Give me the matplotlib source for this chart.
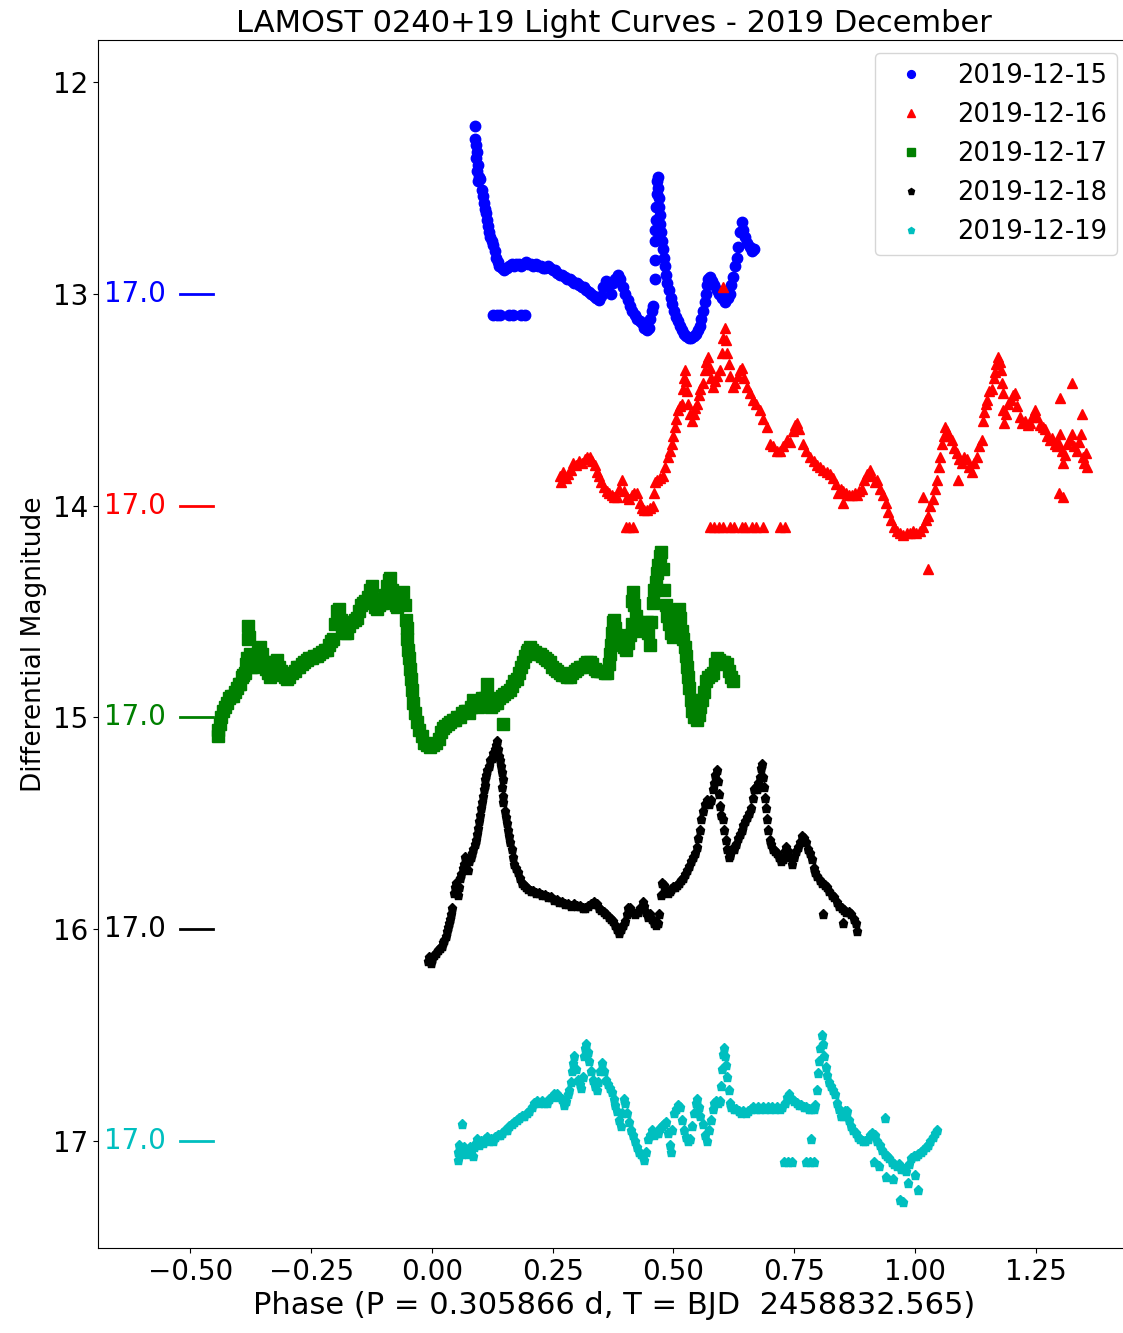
import matplotlib
matplotlib.use("Agg")
import matplotlib.pyplot as plt
import numpy as np

# ---------------- data (phase, differential magnitude) ----------------
dates = ["2019-12-15", "2019-12-16", "2019-12-17", "2019-12-18", "2019-12-19"]
colors = ["b", "r", "g", "k", "c"]
markers = ["o", "^", "s", "p", "p"]
offsets = [13, 14, 15, 16, 17]
ref_label = "17.0"

lc_1215 = [
    (0.089, 12.21), (0.089, 12.27), (0.092, 12.30), (0.094, 12.33), (0.091, 12.36), (0.095, 12.39),
    (0.093, 12.42), (0.097, 12.45), (0.096, 12.47), (0.100, 12.46), (0.104, 12.51), (0.105, 12.54),
    (0.107, 12.57), (0.110, 12.60), (0.112, 12.62), (0.115, 12.65), (0.117, 12.68), (0.119, 12.71),
    (0.121, 12.73), (0.124, 12.75), (0.127, 12.77), (0.130, 12.80), (0.133, 12.83), (0.136, 12.85),
    (0.140, 12.87), (0.145, 12.88), (0.150, 12.89), (0.155, 12.88), (0.160, 12.87), (0.165, 12.86),
    (0.170, 12.87), (0.175, 12.86), (0.180, 12.86), (0.185, 12.87), (0.190, 12.86), (0.195, 12.85),
    (0.200, 12.86), (0.205, 12.86), (0.210, 12.87), (0.215, 12.86), (0.220, 12.87), (0.225, 12.87),
    (0.230, 12.88), (0.235, 12.88), (0.240, 12.87), (0.245, 12.88), (0.250, 12.89), (0.255, 12.89),
    (0.260, 12.90), (0.265, 12.91), (0.270, 12.91), (0.275, 12.92), (0.280, 12.93), (0.285, 12.93),
    (0.290, 12.94), (0.295, 12.95), (0.300, 12.95), (0.305, 12.96), (0.310, 12.97), (0.315, 12.97),
    (0.320, 12.98), (0.325, 12.99), (0.330, 13.00), (0.335, 13.01), (0.340, 13.02), (0.345, 13.03),
    (0.350, 13.01), (0.355, 12.97), (0.360, 12.94), (0.365, 12.96), (0.370, 13.00), (0.375, 12.95),
    (0.380, 12.93), (0.385, 12.91), (0.390, 12.93), (0.395, 12.97), (0.400, 13.00), (0.405, 13.03),
    (0.410, 13.06), (0.415, 13.08), (0.420, 13.10), (0.425, 13.12), (0.430, 13.13), (0.435, 13.14),
    (0.440, 13.16), (0.445, 13.17), (0.449, 13.16), (0.452, 13.12), (0.455, 13.08), (0.458, 13.06),
    (0.461, 12.93), (0.461, 12.84), (0.462, 12.75), (0.461, 12.70), (0.463, 12.65), (0.464, 12.59),
    (0.465, 12.53), (0.467, 12.47), (0.468, 12.45), (0.469, 12.50), (0.470, 12.55), (0.471, 12.59),
    (0.472, 12.63), (0.473, 12.67), (0.474, 12.71), (0.476, 12.75), (0.478, 12.79), (0.480, 12.83),
    (0.482, 12.87), (0.484, 12.91), (0.487, 12.95), (0.490, 12.98), (0.494, 13.02), (0.498, 13.05),
    (0.502, 13.08), (0.506, 13.11), (0.510, 13.13), (0.514, 13.15), (0.518, 13.17), (0.522, 13.19),
    (0.527, 13.20), (0.532, 13.21), (0.537, 13.21), (0.542, 13.20), (0.546, 13.19), (0.550, 13.17),
    (0.554, 13.15), (0.558, 13.12), (0.562, 13.08), (0.565, 13.04), (0.567, 13.00), (0.569, 12.96),
    (0.572, 12.93), (0.575, 12.92), (0.580, 12.94), (0.585, 12.96), (0.590, 12.98), (0.595, 13.00),
    (0.600, 13.02), (0.606, 13.04), (0.612, 13.02), (0.617, 13.00), (0.620, 12.96), (0.623, 12.92),
    (0.627, 12.87), (0.631, 12.83), (0.633, 12.78), (0.637, 12.71), (0.641, 12.66), (0.644, 12.70),
    (0.648, 12.73), (0.653, 12.76), (0.658, 12.78), (0.662, 12.80), (0.666, 12.79),
    (0.126, 13.10), (0.134, 13.10), (0.142, 13.10), (0.160, 13.10), (0.168, 13.10), (0.185, 13.10),
    (0.193, 13.10),
]

lc_1216 = [
    (0.265, 13.86), (0.268, 13.89), (0.272, 13.84), (0.277, 13.87), (0.282, 13.85), (0.287, 13.83),
    (0.292, 13.80), (0.298, 13.81), (0.304, 13.79), (0.310, 13.80), (0.316, 13.78), (0.322, 13.77),
    (0.327, 13.77), (0.332, 13.79), (0.337, 13.81), (0.341, 13.84), (0.346, 13.86), (0.351, 13.89),
    (0.356, 13.91), (0.362, 13.93), (0.367, 13.94), (0.373, 13.95), (0.378, 13.96), (0.383, 13.96),
    (0.388, 13.92), (0.393, 13.88), (0.398, 13.93), (0.404, 13.96), (0.409, 13.97), (0.414, 13.95),
    (0.419, 13.94), (0.424, 13.94), (0.430, 13.99), (0.435, 14.01), (0.440, 14.02), (0.445, 14.02),
    (0.451, 14.01), (0.457, 14.00), (0.459, 13.94), (0.461, 13.89), (0.466, 13.88), (0.472, 13.87),
    (0.478, 13.86), (0.483, 13.82), (0.488, 13.77), (0.492, 13.74), (0.497, 13.71), (0.500, 13.67),
    (0.503, 13.63), (0.506, 13.59), (0.509, 13.55), (0.513, 13.53), (0.517, 13.52), (0.520, 13.45),
    (0.522, 13.40), (0.524, 13.36), (0.526, 13.41), (0.528, 13.46), (0.531, 13.52), (0.535, 13.57),
    (0.538, 13.60), (0.542, 13.57), (0.545, 13.54), (0.548, 13.52), (0.552, 13.48), (0.556, 13.45),
    (0.561, 13.42), (0.565, 13.36), (0.568, 13.32), (0.571, 13.30), (0.575, 13.35), (0.578, 13.40),
    (0.582, 13.44), (0.586, 13.41), (0.590, 13.39), (0.596, 13.36), (0.600, 13.28), (0.603, 13.21),
    (0.606, 13.16), (0.608, 13.22), (0.610, 13.28), (0.614, 13.33), (0.618, 13.39), (0.623, 13.44),
    (0.628, 13.42), (0.633, 13.39), (0.638, 13.36), (0.642, 13.35), (0.647, 13.40), (0.652, 13.44),
    (0.658, 13.47), (0.664, 13.50), (0.670, 13.52), (0.679, 13.55), (0.686, 13.59), (0.693, 13.63),
    (0.700, 13.71), (0.707, 13.72), (0.714, 13.74), (0.720, 13.74), (0.727, 13.72), (0.735, 13.69),
    (0.741, 13.70), (0.748, 13.65), (0.752, 13.62), (0.755, 13.61), (0.760, 13.64), (0.768, 13.71),
    (0.775, 13.74), (0.782, 13.77), (0.790, 13.79), (0.797, 13.81), (0.803, 13.82), (0.810, 13.83),
    (0.817, 13.84), (0.824, 13.85), (0.830, 13.87), (0.836, 13.90), (0.840, 13.94), (0.846, 13.92),
    (0.851, 13.93), (0.857, 13.94), (0.863, 13.95), (0.869, 13.95), (0.875, 13.94), (0.880, 13.95),
    (0.885, 13.93), (0.890, 13.92), (0.895, 13.88), (0.900, 13.85), (0.906, 13.83), (0.912, 13.86),
    (0.917, 13.89), (0.921, 13.88), (0.927, 13.92), (0.933, 13.95), (0.939, 13.99), (0.944, 14.03),
    (0.950, 14.07), (0.957, 14.10), (0.963, 14.12), (0.969, 14.13), (0.976, 14.14), (0.983, 14.13),
    (0.989, 14.13), (0.995, 14.12), (1.002, 14.13), (1.010, 14.12), (1.017, 14.10), (1.022, 14.07),
    (1.026, 14.05), (1.031, 14.00), (1.037, 13.97), (1.041, 13.92), (1.045, 13.88), (1.049, 13.82),
    (1.051, 13.77), (1.055, 13.71), (1.059, 13.67), (1.063, 13.63), (1.066, 13.65), (1.070, 13.67),
    (1.076, 13.69), (1.081, 13.73), (1.087, 13.75), (1.092, 13.78), (1.097, 13.80), (1.102, 13.77),
    (1.107, 13.78), (1.112, 13.82), (1.117, 13.84), (1.122, 13.80), (1.128, 13.77), (1.133, 13.72),
    (1.138, 13.69), (1.140, 13.60), (1.142, 13.56), (1.146, 13.52), (1.149, 13.50), (1.154, 13.46),
    (1.159, 13.45), (1.163, 13.40), (1.165, 13.37), (1.168, 13.33), (1.171, 13.30), (1.175, 13.32),
    (1.178, 13.36), (1.180, 13.42), (1.182, 13.47), (1.183, 13.55), (1.184, 13.61), (1.188, 13.57),
    (1.193, 13.52), (1.198, 13.50), (1.203, 13.48), (1.207, 13.47), (1.212, 13.53), (1.217, 13.58),
    (1.222, 13.61), (1.228, 13.60), (1.233, 13.62), (1.238, 13.61), (1.243, 13.58), (1.248, 13.55),
    (1.253, 13.58), (1.258, 13.62), (1.264, 13.63), (1.269, 13.64), (1.274, 13.67), (1.279, 13.69),
    (1.284, 13.68), (1.289, 13.71), (1.293, 13.72), (1.297, 13.70), (1.300, 13.66), (1.304, 13.74),
    (1.306, 13.80), (1.310, 13.76), (1.315, 13.71), (1.320, 13.69), (1.325, 13.66), (1.330, 13.72),
    (1.335, 13.74), (1.340, 13.70), (1.344, 13.66), (1.347, 13.77), (1.350, 13.80), (1.353, 13.75),
    (1.356, 13.82),
    (0.602, 12.97), (1.026, 14.30), (1.016, 13.96), (0.850, 13.99), (1.325, 13.42), (1.306, 13.96),
    (1.345, 13.57), (1.300, 13.49), (1.298, 13.94), (1.090, 13.88),
    (0.402, 14.10), (0.409, 14.10), (0.416, 14.10), (0.575, 14.10), (0.583, 14.10), (0.595, 14.10),
    (0.603, 14.10), (0.618, 14.10), (0.626, 14.10), (0.641, 14.10), (0.649, 14.10), (0.663, 14.10),
    (0.671, 14.10), (0.686, 14.10), (0.720, 14.10), (0.730, 14.10),
]

lc_1217 = [
    (-0.443, 15.09), (-0.442, 15.06), (-0.439, 15.03), (-0.436, 15.00), (-0.432, 14.97), (-0.428, 14.95),
    (-0.424, 14.93), (-0.420, 14.91), (-0.416, 14.90), (-0.412, 14.90), (-0.408, 14.88), (-0.404, 14.86),
    (-0.400, 14.84), (-0.397, 14.84), (-0.393, 14.81), (-0.390, 14.80), (-0.387, 14.79), (-0.385, 14.75),
    (-0.383, 14.72), (-0.381, 14.63), (-0.380, 14.57), (-0.378, 14.62), (-0.377, 14.70), (-0.375, 14.76),
    (-0.371, 14.76), (-0.367, 14.73), (-0.363, 14.72), (-0.359, 14.69), (-0.356, 14.67), (-0.352, 14.70),
    (-0.348, 14.74), (-0.344, 14.77), (-0.340, 14.79), (-0.335, 14.81), (-0.331, 14.78), (-0.327, 14.75),
    (-0.324, 14.74), (-0.321, 14.73), (-0.317, 14.76), (-0.313, 14.78), (-0.309, 14.80), (-0.304, 14.81),
    (-0.300, 14.82), (-0.295, 14.81), (-0.290, 14.79), (-0.284, 14.78), (-0.279, 14.76), (-0.274, 14.76),
    (-0.269, 14.75), (-0.264, 14.74), (-0.259, 14.73), (-0.254, 14.72), (-0.248, 14.72), (-0.243, 14.71),
    (-0.238, 14.71), (-0.233, 14.70), (-0.227, 14.69), (-0.222, 14.68), (-0.217, 14.68), (-0.212, 14.66),
    (-0.208, 14.64), (-0.205, 14.63), (-0.200, 14.56), (-0.196, 14.50), (-0.193, 14.49), (-0.189, 14.54),
    (-0.185, 14.58), (-0.180, 14.60), (-0.176, 14.60), (-0.171, 14.57), (-0.166, 14.55), (-0.160, 14.54),
    (-0.155, 14.53), (-0.150, 14.50), (-0.146, 14.47), (-0.143, 14.46), (-0.138, 14.45), (-0.133, 14.43),
    (-0.128, 14.40), (-0.124, 14.38), (-0.120, 14.44), (-0.117, 14.48), (-0.114, 14.49), (-0.110, 14.47),
    (-0.105, 14.46), (-0.101, 14.46), (-0.097, 14.42), (-0.093, 14.38), (-0.089, 14.35), (-0.087, 14.34),
    (-0.083, 14.40), (-0.079, 14.44), (-0.075, 14.47), (-0.072, 14.48), (-0.068, 14.45), (-0.064, 14.42),
    (-0.060, 14.41), (-0.056, 14.47), (-0.053, 14.54), (-0.052, 14.58), (-0.051, 14.63), (-0.050, 14.68),
    (-0.048, 14.72), (-0.046, 14.77), (-0.044, 14.82), (-0.041, 14.87), (-0.038, 14.93), (-0.035, 14.98),
    (-0.031, 15.02), (-0.026, 15.06), (-0.021, 15.09), (-0.016, 15.12), (-0.010, 15.13), (-0.004, 15.14),
    (0.002, 15.13), (0.008, 15.12), (0.014, 15.10), (0.019, 15.07), (0.023, 15.05), (0.028, 15.04),
    (0.033, 15.03), (0.038, 15.02), (0.043, 15.01), (0.048, 15.01), (0.053, 15.00), (0.058, 15.00),
    (0.063, 14.98), (0.068, 14.97), (0.072, 14.97), (0.077, 14.98), (0.081, 14.95), (0.085, 14.92),
    (0.090, 14.93), (0.095, 14.95), (0.100, 14.93), (0.104, 14.91), (0.109, 14.91), (0.114, 14.90),
    (0.118, 14.92), (0.122, 14.95), (0.126, 14.94), (0.130, 14.93), (0.135, 14.93), (0.140, 14.91),
    (0.145, 14.90), (0.150, 14.89), (0.156, 14.88), (0.161, 14.87), (0.166, 14.85), (0.171, 14.83),
    (0.176, 14.82), (0.180, 14.79), (0.184, 14.76), (0.188, 14.74), (0.192, 14.71), (0.196, 14.69),
    (0.200, 14.68), (0.203, 14.67), (0.208, 14.68), (0.213, 14.69), (0.218, 14.70), (0.224, 14.70),
    (0.229, 14.71), (0.234, 14.72), (0.239, 14.73), (0.244, 14.74), (0.249, 14.76), (0.254, 14.77),
    (0.259, 14.78), (0.265, 14.79), (0.270, 14.80), (0.275, 14.80), (0.280, 14.81), (0.286, 14.81),
    (0.291, 14.79), (0.296, 14.78), (0.301, 14.77), (0.306, 14.76), (0.311, 14.76), (0.316, 14.75),
    (0.321, 14.74), (0.327, 14.74), (0.332, 14.75), (0.337, 14.77), (0.342, 14.78), (0.348, 14.78),
    (0.353, 14.78), (0.358, 14.79), (0.362, 14.79), (0.366, 14.75), (0.369, 14.70), (0.371, 14.66),
    (0.373, 14.60), (0.375, 14.55), (0.377, 14.54), (0.380, 14.58), (0.384, 14.61), (0.389, 14.63),
    (0.393, 14.65), (0.398, 14.67), (0.402, 14.68), (0.407, 14.65), (0.411, 14.61), (0.414, 14.56),
    (0.415, 14.45), (0.416, 14.41), (0.419, 14.47), (0.422, 14.52), (0.426, 14.55), (0.430, 14.57),
    (0.435, 14.59), (0.440, 14.57), (0.445, 14.55), (0.448, 14.60), (0.451, 14.66), (0.454, 14.55),
    (0.457, 14.46), (0.460, 14.40), (0.463, 14.36), (0.466, 14.32), (0.469, 14.28), (0.472, 14.24),
    (0.475, 14.22), (0.478, 14.30), (0.481, 14.40), (0.484, 14.47), (0.487, 14.52), (0.491, 14.56),
    (0.495, 14.60), (0.499, 14.62), (0.503, 14.58), (0.507, 14.53), (0.511, 14.49), (0.514, 14.53),
    (0.517, 14.59), (0.520, 14.63), (0.524, 14.67), (0.527, 14.71), (0.529, 14.76), (0.531, 14.81),
    (0.533, 14.86), (0.536, 14.92), (0.539, 14.97), (0.543, 15.00), (0.548, 15.01), (0.552, 14.99),
    (0.556, 14.95), (0.560, 14.92), (0.564, 14.88), (0.568, 14.83), (0.572, 14.81), (0.577, 14.80),
    (0.582, 14.79), (0.586, 14.75), (0.590, 14.72), (0.595, 14.73), (0.600, 14.74), (0.605, 14.74),
    (0.610, 14.75), (0.615, 14.78), (0.620, 14.81), (0.623, 14.83),
    (0.114, 14.84), (0.147, 15.03),
]

lc_1218 = [
    (-0.008, 16.15), (-0.005, 16.13), (-0.002, 16.16), (0.001, 16.14), (0.004, 16.12), (0.008, 16.11),
    (0.012, 16.10), (0.016, 16.09), (0.020, 16.08), (0.023, 16.06), (0.026, 16.05), (0.029, 16.03),
    (0.031, 16.01), (0.033, 15.99), (0.035, 15.97), (0.037, 15.95), (0.039, 15.93), (0.041, 15.90),
    (0.045, 15.83), (0.047, 15.80), (0.049, 15.78), (0.052, 15.82), (0.054, 15.84), (0.056, 15.80),
    (0.058, 15.76), (0.061, 15.74), (0.064, 15.71), (0.066, 15.69), (0.068, 15.66), (0.071, 15.69),
    (0.074, 15.72), (0.077, 15.68), (0.080, 15.66), (0.083, 15.64), (0.086, 15.62), (0.089, 15.60),
    (0.092, 15.58), (0.094, 15.55), (0.096, 15.52), (0.098, 15.49), (0.099, 15.46), (0.101, 15.43),
    (0.103, 15.40), (0.105, 15.37), (0.107, 15.34), (0.109, 15.32), (0.111, 15.29), (0.113, 15.27),
    (0.115, 15.25), (0.118, 15.23), (0.121, 15.20), (0.124, 15.19), (0.127, 15.17), (0.130, 15.15),
    (0.133, 15.13), (0.135, 15.11), (0.137, 15.15), (0.139, 15.18), (0.141, 15.20), (0.143, 15.23),
    (0.145, 15.26), (0.147, 15.29), (0.146, 15.33), (0.147, 15.37), (0.148, 15.40), (0.151, 15.44),
    (0.153, 15.47), (0.156, 15.50), (0.158, 15.53), (0.160, 15.56), (0.162, 15.59), (0.165, 15.62),
    (0.168, 15.66), (0.170, 15.69), (0.174, 15.71), (0.178, 15.73), (0.182, 15.76), (0.186, 15.78),
    (0.190, 15.79), (0.195, 15.80), (0.200, 15.81), (0.205, 15.82), (0.210, 15.82), (0.216, 15.83),
    (0.222, 15.83), (0.228, 15.84), (0.234, 15.84), (0.240, 15.85), (0.246, 15.85), (0.252, 15.86),
    (0.258, 15.86), (0.264, 15.87), (0.270, 15.87), (0.276, 15.88), (0.282, 15.88), (0.288, 15.89),
    (0.294, 15.88), (0.300, 15.89), (0.306, 15.89), (0.312, 15.90), (0.318, 15.90), (0.324, 15.89),
    (0.330, 15.88), (0.336, 15.87), (0.341, 15.88), (0.346, 15.90), (0.351, 15.91), (0.356, 15.92),
    (0.361, 15.93), (0.366, 15.94), (0.371, 15.95), (0.375, 15.96), (0.379, 15.98), (0.383, 16.00),
    (0.387, 16.02), (0.391, 16.00), (0.395, 15.98), (0.399, 15.96), (0.403, 15.93), (0.407, 15.90),
    (0.411, 15.90), (0.416, 15.92), (0.421, 15.93), (0.426, 15.92), (0.431, 15.90), (0.436, 15.87),
    (0.440, 15.89), (0.444, 15.92), (0.448, 15.94), (0.452, 15.93), (0.456, 15.95), (0.460, 15.97),
    (0.464, 15.98), (0.468, 15.97), (0.471, 15.93), (0.474, 15.84), (0.477, 15.78), (0.480, 15.79),
    (0.484, 15.82), (0.488, 15.83), (0.492, 15.82), (0.496, 15.81), (0.500, 15.80), (0.504, 15.80),
    (0.508, 15.79), (0.512, 15.78), (0.516, 15.77), (0.520, 15.76), (0.524, 15.74), (0.528, 15.72),
    (0.532, 15.70), (0.536, 15.68), (0.540, 15.66), (0.544, 15.64), (0.548, 15.61), (0.551, 15.57),
    (0.554, 15.53), (0.557, 15.48), (0.561, 15.44), (0.565, 15.41), (0.569, 15.39), (0.573, 15.41),
    (0.577, 15.39), (0.581, 15.34), (0.584, 15.31), (0.587, 15.27), (0.590, 15.25), (0.592, 15.30),
    (0.594, 15.36), (0.596, 15.42), (0.599, 15.46), (0.602, 15.48), (0.605, 15.53), (0.608, 15.58),
    (0.611, 15.62), (0.614, 15.66), (0.617, 15.65), (0.621, 15.62), (0.625, 15.62), (0.629, 15.60),
    (0.633, 15.57), (0.637, 15.55), (0.641, 15.53), (0.645, 15.51), (0.649, 15.49), (0.653, 15.47),
    (0.657, 15.45), (0.661, 15.43), (0.664, 15.38), (0.667, 15.34), (0.670, 15.33), (0.673, 15.34),
    (0.676, 15.31), (0.679, 15.28), (0.682, 15.24), (0.684, 15.22), (0.686, 15.28), (0.688, 15.33),
    (0.690, 15.38), (0.692, 15.43), (0.694, 15.48), (0.696, 15.53), (0.699, 15.58), (0.702, 15.60),
    (0.706, 15.62), (0.710, 15.63), (0.714, 15.64), (0.718, 15.66), (0.722, 15.68), (0.726, 15.67),
    (0.730, 15.63), (0.734, 15.61), (0.738, 15.63), (0.742, 15.66), (0.746, 15.69), (0.750, 15.66),
    (0.754, 15.63), (0.758, 15.61), (0.762, 15.59), (0.766, 15.56), (0.770, 15.57), (0.774, 15.59),
    (0.778, 15.62), (0.782, 15.64), (0.786, 15.67), (0.790, 15.71), (0.794, 15.73), (0.798, 15.75),
    (0.803, 15.77), (0.808, 15.78), (0.813, 15.79), (0.818, 15.80), (0.823, 15.82), (0.828, 15.84),
    (0.833, 15.85), (0.838, 15.87), (0.843, 15.89), (0.848, 15.90), (0.853, 15.91), (0.858, 15.92),
    (0.863, 15.92), (0.868, 15.93), (0.873, 15.95), (0.878, 15.97), (0.880, 16.01),
    (0.809, 15.93), (0.851, 15.97),
]

lc_1219 = [
    (0.054, 17.09), (0.055, 17.05), (0.057, 17.02), (0.060, 17.04), (0.063, 17.06), (0.066, 17.03),
    (0.069, 17.05), (0.072, 17.04), (0.075, 17.06), (0.078, 17.03), (0.081, 17.05), (0.085, 17.07),
    (0.088, 17.03), (0.091, 17.01), (0.093, 16.99), (0.097, 17.02), (0.101, 17.00), (0.105, 17.01),
    (0.109, 16.99), (0.114, 16.98), (0.118, 17.00), (0.122, 16.99), (0.126, 17.00), (0.131, 16.98),
    (0.136, 16.97), (0.141, 16.97), (0.146, 16.96), (0.151, 16.95), (0.155, 16.95), (0.160, 16.93),
    (0.165, 16.92), (0.170, 16.91), (0.176, 16.90), (0.181, 16.89), (0.186, 16.88), (0.191, 16.88),
    (0.197, 16.87), (0.202, 16.86), (0.207, 16.84), (0.212, 16.82), (0.217, 16.81), (0.222, 16.82),
    (0.227, 16.81), (0.232, 16.82), (0.238, 16.82), (0.243, 16.80), (0.248, 16.79), (0.253, 16.78),
    (0.259, 16.78), (0.264, 16.79), (0.269, 16.80), (0.273, 16.83), (0.277, 16.81), (0.281, 16.78),
    (0.284, 16.76), (0.287, 16.72), (0.290, 16.67), (0.292, 16.63), (0.295, 16.60), (0.298, 16.66),
    (0.302, 16.71), (0.306, 16.73), (0.309, 16.75), (0.312, 16.70), (0.314, 16.60), (0.317, 16.56),
    (0.320, 16.54), (0.323, 16.58), (0.326, 16.62), (0.330, 16.67), (0.333, 16.71), (0.337, 16.74),
    (0.341, 16.76), (0.344, 16.72), (0.348, 16.67), (0.352, 16.63), (0.356, 16.67), (0.360, 16.71),
    (0.364, 16.73), (0.368, 16.75), (0.372, 16.77), (0.376, 16.80), (0.380, 16.83), (0.384, 16.86),
    (0.388, 16.90), (0.391, 16.93), (0.394, 16.87), (0.397, 16.80), (0.400, 16.82), (0.404, 16.87),
    (0.408, 16.91), (0.412, 16.95), (0.416, 16.97), (0.420, 17.00), (0.424, 17.03), (0.428, 17.05),
    (0.432, 17.06), (0.436, 17.07), (0.440, 17.09), (0.443, 17.05), (0.447, 16.99), (0.451, 16.97),
    (0.455, 16.95), (0.459, 16.97), (0.464, 16.96), (0.468, 16.96), (0.472, 16.94), (0.476, 16.93),
    (0.480, 16.92), (0.484, 16.91), (0.488, 16.96), (0.492, 17.02), (0.495, 17.05), (0.498, 16.95),
    (0.501, 16.87), (0.505, 16.85), (0.509, 16.83), (0.513, 16.84), (0.517, 16.90), (0.521, 16.95),
    (0.525, 16.98), (0.530, 17.00), (0.534, 16.99), (0.538, 16.93), (0.542, 16.87), (0.546, 16.82),
    (0.549, 16.80), (0.552, 16.84), (0.556, 16.88), (0.561, 16.92), (0.565, 16.97), (0.569, 17.00),
    (0.573, 16.95), (0.577, 16.90), (0.581, 16.85), (0.585, 16.82), (0.589, 16.81), (0.593, 16.82),
    (0.597, 16.81), (0.599, 16.74), (0.601, 16.66), (0.602, 16.59), (0.604, 16.56), (0.606, 16.60),
    (0.608, 16.64), (0.611, 16.70), (0.614, 16.76), (0.617, 16.82), (0.620, 16.84), (0.625, 16.85),
    (0.630, 16.85), (0.635, 16.86), (0.640, 16.87), (0.645, 16.86), (0.650, 16.87), (0.655, 16.86),
    (0.660, 16.85), (0.665, 16.84), (0.670, 16.85), (0.675, 16.84), (0.680, 16.85), (0.685, 16.84),
    (0.690, 16.85), (0.695, 16.84), (0.700, 16.85), (0.705, 16.84), (0.710, 16.85), (0.715, 16.84),
    (0.720, 16.85), (0.725, 16.84), (0.730, 16.82), (0.735, 16.79), (0.740, 16.78), (0.745, 16.80),
    (0.750, 16.81), (0.755, 16.82), (0.760, 16.83), (0.765, 16.83), (0.770, 16.84), (0.775, 16.84),
    (0.780, 16.85), (0.785, 16.85), (0.790, 16.85), (0.794, 16.83), (0.797, 16.76), (0.800, 16.68),
    (0.802, 16.62), (0.804, 16.56), (0.807, 16.50), (0.809, 16.54), (0.812, 16.60), (0.815, 16.65),
    (0.818, 16.69), (0.822, 16.72), (0.826, 16.74), (0.830, 16.76), (0.834, 16.78), (0.838, 16.82),
    (0.842, 16.85), (0.846, 16.88), (0.850, 16.88), (0.855, 16.86), (0.860, 16.86), (0.864, 16.90),
    (0.868, 16.93), (0.872, 16.95), (0.877, 16.96), (0.882, 16.98), (0.887, 16.99), (0.892, 17.00),
    (0.897, 17.00), (0.902, 16.99), (0.907, 16.97), (0.912, 16.96), (0.917, 16.97), (0.922, 17.00),
    (0.927, 17.02), (0.932, 17.04), (0.937, 17.06), (0.942, 17.07), (0.947, 17.08), (0.952, 17.10),
    (0.957, 17.11), (0.962, 17.12), (0.967, 17.11), (0.972, 17.13), (0.977, 17.13), (0.982, 17.14),
    (0.987, 17.11), (0.992, 17.08), (0.997, 17.07), (1.002, 17.07), (1.007, 17.06), (1.012, 17.05),
    (1.017, 17.04), (1.022, 17.03), (1.027, 17.02), (1.032, 17.00), (1.037, 16.98), (1.041, 16.96),
    (1.045, 16.95),
    (0.062, 16.92), (0.968, 17.28), (0.975, 17.29), (0.941, 17.17), (1.006, 17.23), (0.937, 16.89),
    (0.926, 17.12), (0.784, 16.99), (0.955, 17.18), (0.985, 17.20), (1.000, 17.16), (0.915, 17.10),
    (0.729, 17.10), (0.737, 17.10), (0.745, 17.10), (0.775, 17.10), (0.783, 17.10), (0.791, 17.10),
]

curves = [lc_1215, lc_1216, lc_1217, lc_1218, lc_1219]

# ---------------- figure ----------------
W, H, DPI = 1123, 1333, 100
fig = plt.figure(figsize=(W / DPI, H / DPI), dpi=DPI)
ax = fig.add_axes([98 / W, (H - 1248) / H, (1130 - 98) / W, (1248 - 40) / H])

msizes = [7.5, 7.5, 8, 6.5, 6.5]
for pts, c, m, lab, ms in zip(curves, colors, markers, dates, msizes):
    arr = np.array(pts)
    ax.plot(arr[:, 0], arr[:, 1], ls="none", marker=m, color=c, ms=ms, label=lab)

# reference-level markers for each night
for off, c in zip(offsets, colors):
    ax.plot([-0.522, -0.453], [off, off], color=c, lw=2)
    ax.text(-0.679, off, ref_label, color=c, fontsize=20, va="center", ha="left")

ax.set_xlim(-0.691, 1.445)
ax.set_ylim(17.505, 11.802)
ax.set_xticks([-0.5, -0.25, 0.0, 0.25, 0.5, 0.75, 1.0, 1.25])
ax.set_yticks([12, 13, 14, 15, 16, 17])
ax.tick_params(labelsize=20)

ax.set_title("LAMOST 0240+19 Light Curves - 2019 December", fontsize=22)
ax.set_xlabel("Phase (P = 0.305866 d, T = BJD  2458832.565)", fontsize=22)
ax.set_ylabel("Differential Magnitude", fontsize=19)

ax.legend(loc="upper right", fontsize=18.5, markerscale=0.75)

fig.savefig("out.png", dpi=DPI)
